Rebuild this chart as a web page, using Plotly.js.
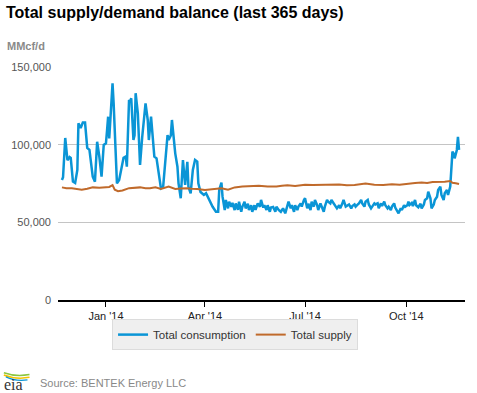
<!DOCTYPE html>
<html>
<head>
<meta charset="utf-8">
<script src="https://cdn.plot.ly/plotly-3.0.1.min.js"></script>
<style>html,body{margin:0;padding:0;background:#fff;}#chart{width:477px;height:393px;}</style>
</head>
<body>
<div id="chart"></div>
<script>
const consumptionDates = [
"2013-11-22","2013-11-23","2013-11-25","2013-11-26","2013-11-27","2013-11-29","2013-11-30","2013-12-02","2013-12-04","2013-12-06",
"2013-12-07","2013-12-09","2013-12-11","2013-12-13","2013-12-15","2013-12-17","2013-12-18","2013-12-20","2013-12-22","2013-12-24",
"2013-12-26","2013-12-28","2013-12-30","2014-01-01","2014-01-02","2014-01-03","2014-01-04","2014-01-05","2014-01-07","2014-01-08",
"2014-01-10","2014-01-11","2014-01-13","2014-01-16","2014-01-17","2014-01-19","2014-01-20","2014-01-22","2014-01-23","2014-01-24",
"2014-01-26","2014-01-27","2014-01-28","2014-01-30","2014-01-31","2014-02-01","2014-02-03","2014-02-06","2014-02-08","2014-02-09",
"2014-02-11","2014-02-12","2014-02-14","2014-02-16","2014-02-18","2014-02-20","2014-02-22","2014-02-24","2014-02-26","2014-02-27",
"2014-03-01","2014-03-02","2014-03-04","2014-03-05","2014-03-07","2014-03-08","2014-03-10","2014-03-12","2014-03-14","2014-03-16",
"2014-03-17","2014-03-19","2014-03-21","2014-03-23","2014-03-25","2014-03-26","2014-03-28","2014-03-31","2014-04-02","2014-04-05",
"2014-04-08","2014-04-11","2014-04-13","2014-04-14","2014-04-16","2014-04-17","2014-04-19","2014-04-20","2014-04-22","2014-04-23",
"2014-04-25","2014-04-26","2014-04-28","2014-04-29","2014-05-01","2014-05-02","2014-05-04","2014-05-05","2014-05-07","2014-05-08",
"2014-05-10","2014-05-11","2014-05-13","2014-05-14","2014-05-16","2014-05-17","2014-05-19","2014-05-21","2014-05-22","2014-05-24",
"2014-05-25","2014-05-27","2014-05-28","2014-05-30","2014-05-31","2014-06-02","2014-06-04","2014-06-05","2014-06-07","2014-06-09",
"2014-06-11","2014-06-13","2014-06-15","2014-06-16","2014-06-18","2014-06-19","2014-06-21","2014-06-22","2014-06-24","2014-06-25",
"2014-06-27","2014-06-28","2014-06-30","2014-07-01","2014-07-03","2014-07-04","2014-07-06","2014-07-07","2014-07-09","2014-07-10",
"2014-07-12","2014-07-13","2014-07-15","2014-07-16","2014-07-18","2014-07-19","2014-07-21","2014-07-22","2014-07-24","2014-07-25",
"2014-07-27","2014-07-29","2014-07-30","2014-08-01","2014-08-02","2014-08-04","2014-08-05","2014-08-07","2014-08-09","2014-08-10",
"2014-08-12","2014-08-13","2014-08-15","2014-08-16","2014-08-18","2014-08-19","2014-08-21","2014-08-22","2014-08-24","2014-08-25",
"2014-08-27","2014-08-28","2014-08-30","2014-09-01","2014-09-02","2014-09-03","2014-09-05","2014-09-06","2014-09-08","2014-09-09",
"2014-09-11","2014-09-12","2014-09-14","2014-09-15","2014-09-17","2014-09-18","2014-09-20","2014-09-21","2014-09-23","2014-09-24",
"2014-09-26","2014-09-27","2014-09-29","2014-09-30","2014-10-02","2014-10-03","2014-10-04","2014-10-06","2014-10-07","2014-10-09",
"2014-10-10","2014-10-12","2014-10-14","2014-10-15","2014-10-17","2014-10-18","2014-10-20","2014-10-21","2014-10-23","2014-10-24",
"2014-10-26","2014-10-27","2014-10-29","2014-10-30","2014-11-01","2014-11-02","2014-11-04","2014-11-05","2014-11-07","2014-11-08",
"2014-11-10","2014-11-11","2014-11-12","2014-11-13","2014-11-14","2014-11-16","2014-11-17","2014-11-18"
];
const consumptionValues = [
77300,79000,104300,97000,90000,92000,91500,76200,75300,83700,
113700,110700,114200,114200,97900,96600,90100,79400,76200,101900,
92300,79400,99800,100900,109000,118000,104000,118000,139500,126600,
94400,75100,77300,90100,91500,92300,85800,128800,127700,129900,
103000,106000,133100,120200,105100,86900,105100,126600,115900,103000,
118100,110500,92300,91200,81600,71900,72900,88000,106200,103000,
106000,115900,98700,94400,85800,75100,65500,90100,74100,89000,
72900,68700,83700,90100,89000,75100,69500,67600,68700,64400,
60000,56800,56800,70800,75500,66500,57900,64400,59000,63300,
60100,62500,57900,62200,58000,63300,56800,60000,63300,59000,
62000,57900,61000,56800,61000,58000,62200,60000,64400,59500,
61000,57900,61000,56800,59500,59900,56800,60100,58000,56800,
59000,55800,60100,63300,59000,61000,56800,61000,57900,60100,
62200,60100,64400,65500,59000,62000,57900,63300,60100,64400,
61000,57900,62200,60100,56800,60100,64400,63300,62200,64400,
62200,60100,59000,61000,59000,62200,64400,60100,61000,61500,
59000,60500,61500,60100,61500,62200,64400,62200,60100,63300,
64400,61500,59000,61000,62200,61500,62200,59000,62200,60500,
63300,61000,59000,60000,57900,60100,62200,59500,56800,55800,
59000,57900,61000,60000,61000,63300,61200,62500,60500,64400,
61000,59700,62000,59000,61500,64400,65500,69700,65500,59000,
61500,64400,66500,70800,73000,67600,64400,68700,70800,67600,
73000,83700,95500,94400,91200,96600,105100,96600
];
const supplyDates = [
"2013-11-22","2013-11-26","2013-12-01","2013-12-06","2013-12-10","2013-12-15","2013-12-20","2013-12-26","2013-12-31","2014-01-04",
"2014-01-07","2014-01-09","2014-01-12","2014-01-16","2014-01-22","2014-01-27","2014-02-01","2014-02-06","2014-02-10","2014-02-15",
"2014-02-20","2014-02-27","2014-03-05","2014-03-10","2014-03-15","2014-03-20","2014-03-25","2014-04-01","2014-04-06","2014-04-10",
"2014-04-16","2014-04-22","2014-04-28","2014-05-05","2014-05-12","2014-05-20","2014-05-28","2014-06-05","2014-06-10","2014-06-15",
"2014-06-22","2014-07-01","2014-07-08","2014-07-15","2014-07-22","2014-08-01","2014-08-08","2014-08-15","2014-08-25","2014-09-02",
"2014-09-10","2014-09-18","2014-09-25","2014-10-03","2014-10-09","2014-10-15","2014-10-20","2014-10-25","2014-10-30","2014-11-05",
"2014-11-10","2014-11-12","2014-11-15","2014-11-18"
];
const supplyValues = [
72500,72000,72000,71300,71000,71600,72500,72200,72500,72800,
74000,71000,70000,70500,72000,72300,72500,72000,72000,72600,
71500,73000,71500,71800,72000,71600,71500,70800,71200,71500,
72000,71000,72500,73000,73200,73500,73000,73000,73500,73800,
73400,74200,74000,74000,74300,74300,73800,74000,75000,74200,
74000,74500,74200,75100,75300,75600,75400,76000,76000,76200,
76600,75500,75200,74700
];
const xTickVals = ["2014-01-01","2014-04-01","2014-07-01","2014-10-01"];
const xTickText = ["Jan '14","Apr '14","Jul '14","Oct '14"];
const yTickVals = [0,50000,100000,150000];
const yTickText = ["0","50,000","100,000","150,000"];

const traces = [
  {x: consumptionDates, y: consumptionValues, type:'scatter', mode:'lines', name:'Total consumption',
   line:{color:'#0a95d6', width:2.5}},
  {x: supplyDates, y: supplyValues, type:'scatter', mode:'lines', name:'Total supply',
   line:{color:'#c06a2b', width:2}}
];

const layout = {
  width:477, height:393,
  margin:{l:58, r:12, t:67, b:93},
  paper_bgcolor:'#ffffff', plot_bgcolor:'#ffffff',
  font:{family:'"Liberation Sans", Arial, sans-serif', size:11, color:'#333'},
  title:{text:'<b>Total supply/demand balance (last 365 days)</b>', font:{size:16, color:'#000'},
         x:6/477, xanchor:'left', xref:'container', y:1-12/393, yanchor:'middle', yref:'container'},
  showlegend:true,
  legend:{orientation:'h', x:0.435, xanchor:'center', y:-0.082, yanchor:'top',
          bgcolor:'#efefef', bordercolor:'#dcdcdc', borderwidth:1,
          font:{size:11.5, color:'#333'}},
  xaxis:{type:'date', range:['2013-11-18 10:00','2014-11-23 10:00'],
         tickmode:'array', tickvals:xTickVals, ticktext:xTickText,
         showgrid:false, showline:true, linecolor:'#000', linewidth:1.5,
         ticks:'outside', ticklen:5, tickcolor:'#000', tickwidth:1,
         tickfont:{size:11, color:'#222'}, zeroline:false, fixedrange:true},
  yaxis:{range:[0,150000], tickmode:'array', tickvals:yTickVals, ticktext:yTickText,
         showgrid:true, gridcolor:'#c4c4c4', gridwidth:1, zeroline:false, showline:false,
         ticks:'', ticklabelstandoff:6, tickfont:{size:11, color:'#555'}, fixedrange:true},
  annotations:[
    {text:'<b>MMcf/d</b>', xref:'paper', yref:'paper', x:-53/407, y:1+(67-46)/233,
     xanchor:'left', yanchor:'middle', showarrow:false, font:{size:11, color:'#8a8a8a'}},
    {text:'Source: BENTEK Energy LLC', xref:'paper', yref:'paper', x:-20/407, y:-(383-300)/233,
     xanchor:'left', yanchor:'middle', showarrow:false, font:{size:11, color:'#888'}},
    {text:'eia', xref:'paper', yref:'paper', x:-56/407, y:-(384-300)/233,
     xanchor:'left', yanchor:'middle', showarrow:false,
     font:{family:'"Liberation Serif", "DejaVu Serif", serif', size:16, color:'#333'}}
  ],
  shapes:[
    {type:'path', xref:'paper', yref:'paper', path:'M -0.133 -0.312 Q -0.105 -0.33 -0.07 -0.32',
     line:{color:'#8cc63f', width:1.5}},
    {type:'path', xref:'paper', yref:'paper', path:'M -0.133 -0.322 Q -0.105 -0.342 -0.07 -0.332',
     line:{color:'#f5c400', width:1.5}},
    {type:'path', xref:'paper', yref:'paper', path:'M -0.128 -0.33 Q -0.105 -0.35 -0.075 -0.343',
     line:{color:'#0a95d6', width:1.2}}
  ]
};
Plotly.newPlot('chart', traces, layout, {displayModeBar:false, staticPlot:true});
</script>
</body>
</html>
